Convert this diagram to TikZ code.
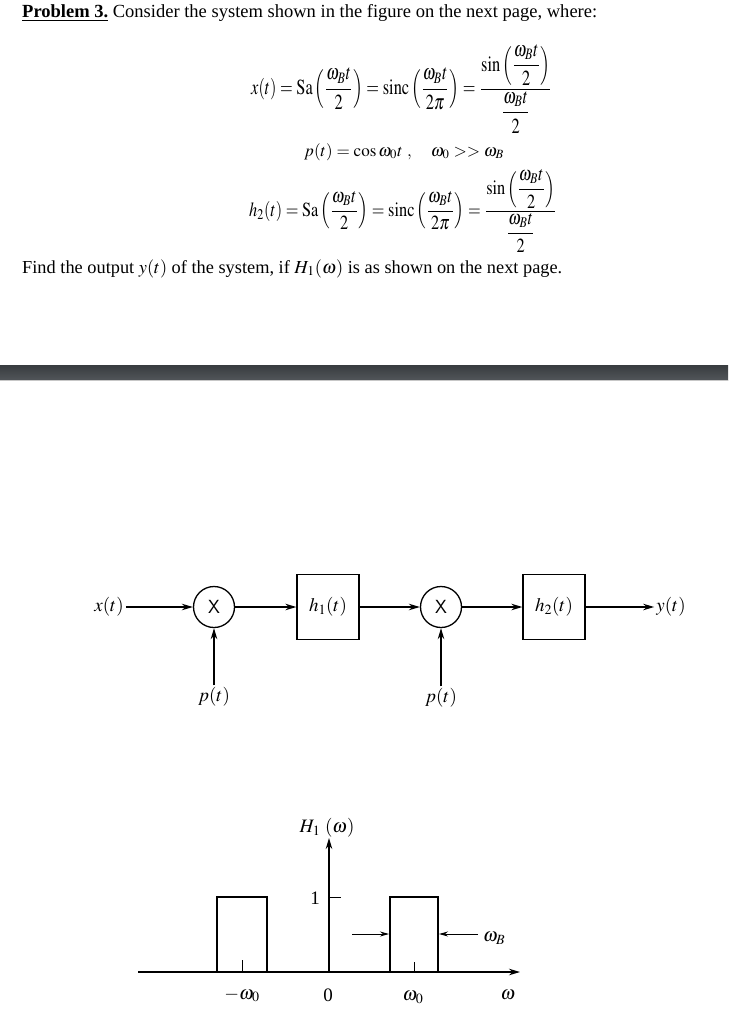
\documentclass[tikz,border=0pt]{standalone}
\usepackage{amsmath}
\usepackage{mathptmx}
\usepackage{fontspec}
\setmainfont{Liberation Serif}
\usepackage{graphicx}
\usepackage{xcolor}
\usetikzlibrary{arrows.meta}

\definecolor{bartop}{HTML}{383C3F}
\definecolor{barbot}{HTML}{515559}

\begin{document}
\begin{tikzpicture}[x=1pt,y=-1pt,>={Stealth[length=11pt,width=6.5pt]}]
        \tikzstyle{mult}=[circle,draw,line width=1.3pt,minimum size=41pt,inner sep=0pt]
        \tikzstyle{block}=[draw,line width=1.3pt,minimum width=62pt,minimum height=65pt,inner sep=0pt]
        \tikzstyle{sig}=[font=\fontsize{19}{22}\selectfont,inner sep=2pt]
        \tikzstyle{flow}=[->,line width=1.3pt]
        \tikzstyle{axis}=[->,line width=1.6pt]
        \tikzstyle{pulse}=[line width=2.6pt]
        \tikzstyle{gap}=[->,line width=1pt,>={Stealth[length=9pt,width=5pt]}]
        \tikzstyle{eq}=[anchor=west,inner sep=0pt]

        \fill[white] (0,0) rectangle (728,1024);
        \useasboundingbox (0,0) rectangle (728,1024);

        \node[eq,anchor=base west] (title) at (22,18) {\resizebox{575pt}{!}{\textbf{\underline{Problem 3.}} Consider the system shown in the figure on the next page, where:}};
        \node[eq] (eq-x) at (251,89) {\resizebox*{301pt}{88pt}{$\displaystyle x(t)=\mathrm{Sa}\left(\frac{\omega_B t}{2}\right)=\mathrm{sinc}\left(\frac{\omega_B t}{2\pi}\right)=\frac{\sin\left(\dfrac{\omega_B t}{2}\right)}{\dfrac{\omega_B t}{2}}$}};
        \node[eq] (eq-p) at (304,152) {\resizebox{200pt}{!}{$p(t)=\cos\omega_0 t\ ,\quad \omega_0>>\omega_B$}};
        \node[eq] (eq-h) at (249,211) {\resizebox*{308pt}{82pt}{$\displaystyle h_2(t)=\mathrm{Sa}\left(\frac{\omega_B t}{2}\right)=\mathrm{sinc}\left(\frac{\omega_B t}{2\pi}\right)=\frac{\sin\left(\dfrac{\omega_B t}{2}\right)}{\dfrac{\omega_B t}{2}}$}};
        \node[eq,anchor=base west] (find) at (22,273) {\resizebox{540pt}{!}{Find the output $y(t)$ of the system, if $H_1(\omega)$ is as shown on the next page.}};

        \shade[top color=bartop,bottom color=barbot] (0,365) rectangle (728,380);
        \draw[black!22] (0,380.6) -- (728,380.6);

        \node[sig] (x) at (109,607) {$x(t)$};
        \node[mult,sig] (mult-1) at (214,607) {\sffamily X};
        \node[block,sig] (h-1) at (328,607) {$h_1(t)$};
        \node[mult,sig] (mult-2) at (441,607) {\sffamily X};
        \node[block,sig] (h-2) at (554,607) {$h_2(t)$};
        \node[sig] (y) at (671,607) {$y(t)$};
        \node[sig] (p-1) at (214,697) {$p(t)$};
        \node[sig] (p-2) at (441,698) {$p(t)$};

        \draw[flow] (x) -- (mult-1);
        \draw[flow] (mult-1) -- (h-1);
        \draw[flow] (h-1) -- (mult-2);
        \draw[flow] (mult-2) -- (h-2);
        \draw[flow] (h-2) -- (y);
        \foreach \m in {1,2}
            \draw[flow] (p-\m) -- (mult-\m);

        \coordinate (w-l) at (138,972);
        \coordinate (w-r) at (520,972);
        \coordinate (o) at (329,972);
        \coordinate (H-top) at (329,838);
        \draw[axis] (w-l) -- (w-r);
        \draw[axis,line width=1.2pt] (o) -- (H-top);
        \node[sig] (H) at (327,828) {$H_1\ (\omega)$};
        \draw[line width=1pt] (329,897) -- (341,897);
        \node[sig] (one) at (315,898) {1};

        \draw[pulse] (217,972) -- (217,897) -- (267,897) -- (267,972);
        \draw[pulse] (390,972) -- (390,897) -- (438,897) -- (438,972);
        \draw[line width=1pt] (242,972) -- (242,960);
        \draw[line width=1pt] (414,972) -- (414,962);

        \coordinate (b-l) at (352,934);
        \coordinate (b-le) at (389,934);
        \coordinate (b-r) at (478,934);
        \coordinate (b-re) at (439,934);
        \draw[gap] (b-l) -- (b-le);
        \draw[gap] (b-r) -- (b-re);
        \node[sig,anchor=west] (wB) at (481,938) {$\omega_B$};

        \node[sig] (mw0) at (242,995) {$-\omega_0$};
        \node[sig] (zero) at (328,995) {0};
        \node[sig] (w0) at (413,997) {$\omega_0$};
        \node[sig] (w) at (508,995) {$\omega$};
    \end{tikzpicture}
\end{document}
